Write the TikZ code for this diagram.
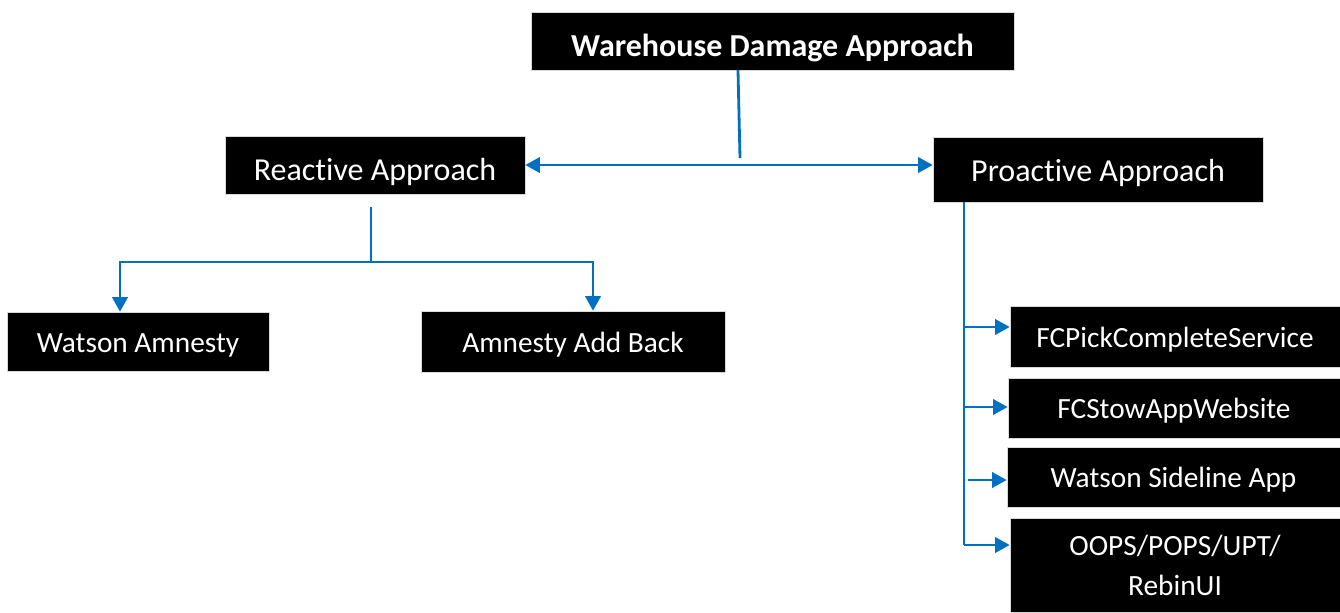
\documentclass[tikz,border=0pt]{standalone}
\usepackage{fontspec}
\setmainfont[Ligatures=NoCommon]{Carlito}
\usetikzlibrary{arrows.meta}
\definecolor{linkblue}{RGB}{0,112,192}
\begin{document}
\begin{tikzpicture}[x=0.75pt,y=-0.75pt,
  box/.style={fill=black,draw=black!15,line width=0.4pt,text=white,inner sep=0pt,align=center,
    font=\fontsize{24}{29.25}\selectfont},
  leaf/.style={box,font=\fontsize{22}{30}\selectfont},
  one/.style={text height=22.5pt,text depth=0pt},
  oneleaf/.style={text height=16pt,text depth=0pt},
  conn/.style={draw=linkblue,line width=2.1pt},
  tip/.style={-{Triangle[width=11.5pt,length=11pt]}},
  tips/.style={{Triangle[width=11.5pt,length=11pt]}-{Triangle[width=11.5pt,length=11pt]}}]
\useasboundingbox (0,0) rectangle (1340,612);

\node[box,one,font=\fontsize{24}{29}\selectfont\bfseries,minimum width=362.25pt,minimum height=43.5pt] (wh) at (772.5,41) {Warehouse Damage Approach};
\node[box,one,minimum width=225pt,minimum height=43.5pt] (re) at (375,165) {Reactive Approach};
\node[box,text height=18.5pt,text depth=0pt,minimum width=247.5pt,minimum height=48.75pt] (pro) at (1098,169.5) {Proactive Approach};
\node[leaf,oneleaf,minimum width=196.5pt,minimum height=44.25pt] (wa) at (138,341.5) {Watson Amnesty};
\node[leaf,oneleaf,minimum width=228pt,minimum height=45.75pt] (ab) at (573,341.5) {Amnesty Add Back};
\node[leaf,oneleaf,minimum width=247.5pt,minimum height=45.75pt] (fp) at (1175,336.5) {FCPickCompleteService};
\node[leaf,oneleaf,minimum width=249pt,minimum height=45pt] (fs) at (1174,408) {FCStowAppWebsite};
\node[leaf,oneleaf,minimum width=249.75pt,minimum height=45pt] (ws) at (1173.5,477) {Watson Sideline App};
\node[leaf,minimum width=247.5pt,minimum height=70.5pt] (oo) at (1175,565) {OOPS/POPS/UPT/\\RebinUI};

% top to the two approaches
\coordinate (t0) at (738,70);
\coordinate (t1) at (740,158);
\draw[conn] (t0) -- (t1);
\draw[conn,tips] (re.east) -- (re.east -| pro.west);

% reactive branch
\coordinate (r0) at (371,207);
\coordinate (r1) at (371,262);
\coordinate (rl) at (120,262);
\coordinate (rr) at (593,262);
\draw[conn] (r0) -- (r1);
\draw[conn,tip] (r1) -- (rl) -- (rl |- wa.north);
\draw[conn,tip] (r1) -- (rr) -- (rr |- ab.north);

% proactive branch
\coordinate (p0) at (964,202);
\coordinate (p1) at (964,327);
\coordinate (p2) at (964,407);
\coordinate (p3) at (968,480);
\coordinate (p4) at (964,545);
\draw[conn] (p0) -- (p4);
\draw[conn,tip] (p1) -- (p1 -| fp.west);
\draw[conn,tip] (p2) -- (p2 -| fs.west);
\draw[conn,tip] (p3) -- (p3 -| ws.west);
\draw[conn,tip] (p4) -- (p4 -| oo.west);
\end{tikzpicture}
\end{document}
